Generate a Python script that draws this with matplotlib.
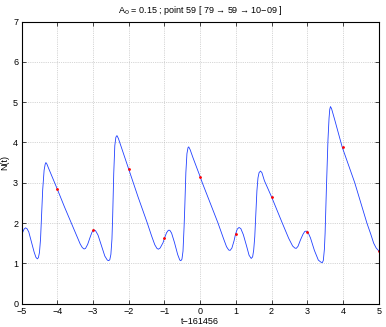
import matplotlib
matplotlib.use("Agg")
import matplotlib.pyplot as plt

plt.rcParams['font.family'] = ['Liberation Sans', 'DejaVu Sans']

# curve (t - 161456, N(t))
t_curve = [-5.00, -4.97, -4.93, -4.89, -4.85, -4.80, -4.73, -4.65, -4.60, -4.56,
           -4.53, -4.50, -4.47, -4.45, -4.41, -4.37, -4.34, -4.32, -4.29, -4.25,
           -4.00, -3.80, -3.61, -3.45, -3.36, -3.30, -3.25, -3.21, -3.15, -3.08,
           -3.03, -2.98, -2.93, -2.86, -2.77, -2.67, -2.60, -2.56, -2.53, -2.50,
           -2.47, -2.45, -2.42, -2.39, -2.36, -2.33, -2.29, -2.21, -2.00, -1.74,
           -1.48, -1.36, -1.27, -1.21, -1.17, -1.12, -1.04, -1.00, -0.94, -0.89,
           -0.85, -0.80, -0.72, -0.63, -0.57, -0.54, -0.51, -0.48, -0.45, -0.43,
           -0.40, -0.37, -0.34, -0.32, -0.28, -0.20, 0.00, 0.06, 0.50, 0.66,
           0.74, 0.80, 0.84, 0.89, 0.95, 0.99, 1.04, 1.09, 1.14, 1.21,
           1.30, 1.37, 1.43, 1.47, 1.50, 1.53, 1.56, 1.59, 1.62, 1.65,
           1.69, 1.73, 1.80, 2.00, 2.30, 2.48, 2.59, 2.65, 2.69, 2.74,
           2.81, 2.88, 2.93, 2.97, 3.02, 3.09, 3.20, 3.31, 3.38, 3.42,
           3.45, 3.48, 3.50, 3.535, 3.58, 3.61, 3.63, 3.65, 3.68, 3.77,
           3.98, 4.33, 4.67, 4.78, 4.86, 4.93, 5.00]
n_curve = [1.66, 1.77, 1.85, 1.88, 1.86, 1.78, 1.55, 1.28, 1.15, 1.11,
           1.14, 1.27, 1.60, 1.99, 2.82, 3.31, 3.46, 3.50, 3.46, 3.37,
           2.84, 2.40, 2.00, 1.66, 1.48, 1.39, 1.355, 1.37, 1.47, 1.65,
           1.77, 1.83, 1.81, 1.70, 1.45, 1.18, 1.08, 1.065, 1.09, 1.22,
           1.60, 2.16, 3.23, 3.92, 4.13, 4.17, 4.10, 3.89, 3.34, 2.65,
           2.00, 1.68, 1.46, 1.37, 1.35, 1.38, 1.51, 1.62, 1.76, 1.82,
           1.82, 1.75, 1.52, 1.22, 1.08, 1.065, 1.10, 1.30, 1.90, 2.40,
           3.25, 3.72, 3.87, 3.89, 3.82, 3.62, 3.15, 3.00, 2.00, 1.60,
           1.41, 1.33, 1.32, 1.38, 1.56, 1.72, 1.85, 1.89, 1.86, 1.71,
           1.43, 1.20, 1.12, 1.16, 1.33, 1.66, 2.25, 2.80, 3.12, 3.25,
           3.29, 3.25, 3.05, 2.65, 2.00, 1.62, 1.43, 1.38, 1.37, 1.42,
           1.58, 1.72, 1.79, 1.80, 1.77, 1.63, 1.32, 1.08, 1.03, 1.015,
           1.07, 1.35, 1.75, 2.82, 4.06, 4.60, 4.82, 4.89, 4.84, 4.56,
           3.88, 3.00, 2.00, 1.72, 1.50, 1.38, 1.31]

# data points (red)
t_pts = [-4, -3, -2, -1, 0, 1, 2, 3, 4, 5]
n_pts = [2.84, 1.82, 3.34, 1.62, 3.15, 1.72, 2.65, 1.785, 3.88, 1.31]

fig = plt.figure(figsize=(3.86, 3.27), dpi=100)
ax = fig.add_axes([0.056, 0.0716, 0.925, 0.8624])

ax.plot(t_curve, n_curve, color='#2040ff', linewidth=0.6)
ax.plot(t_pts, n_pts, '.', color='red', markersize=2)

ax.set_xlim(-5, 5)
ax.set_ylim(0, 7)
ax.set_xticks(range(-5, 6))
ax.set_yticks(range(0, 8))
ax.grid(True, linestyle=':', color='#b0b0b0', linewidth=0.5)
ax.tick_params(direction='in', labelsize=6.5, length=3, width=0.5, pad=2.5,
               top=True, right=True)
for s in ax.spines.values():
    s.set_linewidth(0.8)

ax.set_xlabel('t\u2212161456', fontsize=6.5, labelpad=1)
ax.set_ylabel('N(t)', fontsize=6.5, labelpad=3)
ax.set_title('A$_0$ = 0.15 ; point 59 [ 79 \u2192 59 \u2192 10\u221209 ]',
             fontsize=6.5, pad=6)

fig.savefig('out.png', dpi=100)
